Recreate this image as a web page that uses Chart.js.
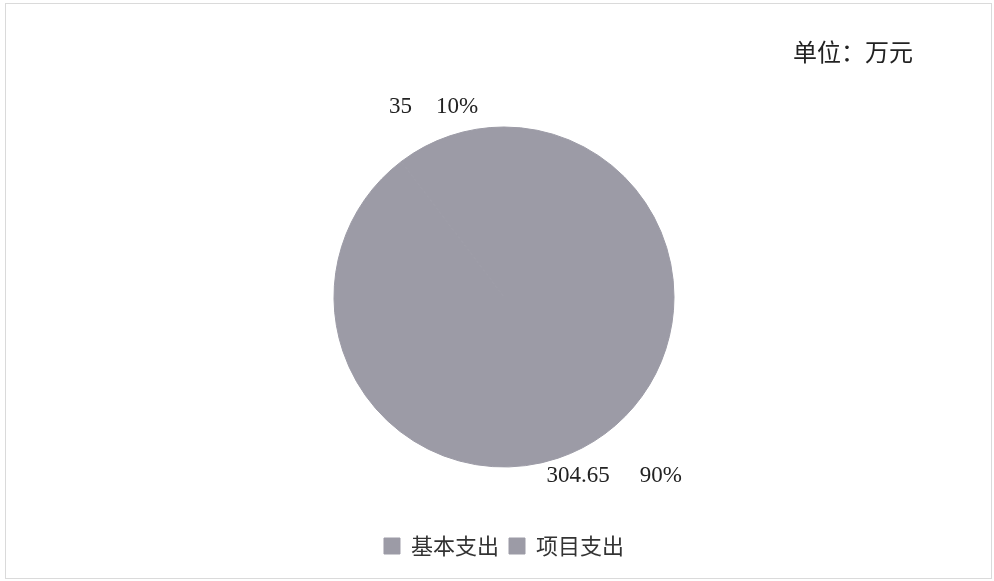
<!DOCTYPE html>
<html>
<head>
<meta charset="utf-8">
<script src="https://cdn.jsdelivr.net/npm/chart.js@4.4.1/dist/chart.umd.min.js"></script>
<style>
  html, body { margin: 0; padding: 0; background: #fff; }
  #wrap { width: 994px; height: 581px; position: relative; }
</style>
</head>
<body>
<div id="wrap"><canvas id="myChart"></canvas></div>
<script>
const categories = ["基本支出", "项目支出"];
const amounts = [304.65, 35];
const valueLabels = ["304.65", "35"];
const unitText = "单位：万元";

const sliceColor = "#9c9ba6";

// labels outside the pie: value + percent
const outsideLabels = {
  id: "outsideLabels",
  afterDatasetsDraw(chart) {
    const ctx = chart.ctx;
    const meta = chart.getDatasetMeta(0);
    const total = amounts.reduce((a, b) => a + b, 0);
    ctx.save();
    ctx.font = "23px 'Liberation Serif'";
    ctx.fillStyle = "#222";
    ctx.textBaseline = "middle";
    meta.data.forEach((arc, i) => {
      const mid = (arc.startAngle + arc.endAngle) / 2;
      const pct = Math.round((amounts[i] / total) * 100) + "%";
      const val = valueLabels[i];
      const dx = Math.cos(mid), dy = Math.sin(mid);
      const gap = dy > 0 ? 30 : 24;
      const wVal = ctx.measureText(val).width;
      const wPct = ctx.measureText(pct).width;
      const w = wVal + gap + wPct;
      let x, y;
      if (dy > 0) {
        // lower half: label starts just left of the anchor, below the edge
        const ax = arc.x + dx * (arc.outerRadius + 8);
        const ay = arc.y + dy * (arc.outerRadius + 8);
        x = ax - 14;
        y = ay + 10;
      } else {
        const ax = arc.x + dx * (arc.outerRadius + 26);
        const ay = arc.y + dy * (arc.outerRadius + 26);
        x = ax - 8 - w / 2;
        y = ay - 4;
      }
      ctx.textAlign = "left";
      ctx.fillText(val, x, y);
      ctx.fillText(pct, x + wVal + gap, y);
    });
    ctx.restore();
  },
  afterDraw(chart) {
    const ctx = chart.ctx;
    ctx.save();
    ctx.fillStyle = "#222";
    ctx.font = "24px 'Noto Sans CJK SC'";
    ctx.textAlign = "left";
    ctx.textBaseline = "middle";
    ctx.fillText(unitText, 793, 52);
    ctx.strokeStyle = "#dadada";
    ctx.lineWidth = 1;
    ctx.strokeRect(5.5, 3.5, 986, 575);
    ctx.restore();
  }
};

new Chart(document.getElementById("myChart"), {
  type: "pie",
  data: {
    labels: categories,
    datasets: [
      {
        data: amounts,
        backgroundColor: [sliceColor, sliceColor],
        borderColor: [sliceColor, sliceColor],
        borderWidth: 1,
        radius: 170,
      },
    ],
  },
  options: {
    responsive: true,
    maintainAspectRatio: false,
    animation: false,
    layout: { padding: { left: 14, right: 0, top: 69, bottom: 14 } },
    plugins: {
      tooltip: { enabled: false },
      legend: {
        position: "bottom",
        labels: {
          color: "#333",
          font: { family: "'Noto Sans CJK SC'", size: 22 },
          boxWidth: 16,
          boxHeight: 16,
          padding: 10,
        },
      },
    },
  },
  plugins: [outsideLabels],
});
</script>
</body>
</html>
